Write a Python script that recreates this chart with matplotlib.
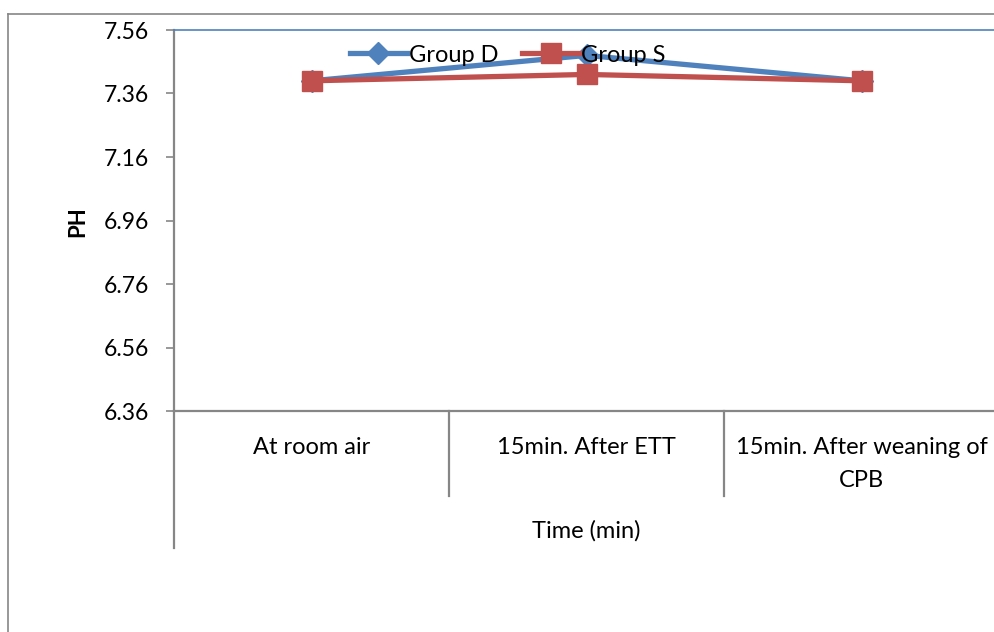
import matplotlib.pyplot as plt
from matplotlib.lines import Line2D
from matplotlib.transforms import blended_transform_factory

plt.rcParams['font.family'] = ['Lato', 'DejaVu Sans']

# pH readings per time point
categories = ["At room air", "15min. After ETT", "15min. After weaning of\nCPB"]
group_d = [7.40, 7.48, 7.40]
group_s = [7.40, 7.42, 7.40]
y_ticks = [6.36, 6.56, 6.76, 6.96, 7.16, 7.36, 7.56]

blue = '#4F81BD'
red = '#C0504D'
grey = '#868686'

fig = plt.figure(figsize=(9.95, 6.32), dpi=100)
W, H = 995, 632

# outer chart frame
fig.add_artist(Line2D([8 / W, 8 / W], [0, 1 - 14 / H], color=grey, lw=1.2))
fig.add_artist(Line2D([8 / W, 1.0], [1 - 14 / H, 1 - 14 / H], color=grey, lw=1.2))

ax = fig.add_axes([174 / W, (H - 411) / H, 825 / W, 381 / H])
x = list(range(len(categories)))

ax.plot(x, group_d, color=blue, lw=3.8, marker='D', markersize=11, label='Group D', zorder=3)
ax.plot(x, group_s, color=red, lw=3.8, marker='s', markersize=14, label='Group S', zorder=4)

ax.set_xlim(-0.5, len(categories) - 0.5)
ax.set_ylim(y_ticks[0], y_ticks[-1])
ax.set_yticks(y_ticks)
ax.set_yticklabels([f"{t:.2f}" for t in y_ticks])
ax.tick_params(axis='y', length=6, width=1.2, color=grey, pad=12, labelsize=16.5)
ax.set_xticks([])

for side in ['left', 'bottom']:
    ax.spines[side].set_color(grey)
    ax.spines[side].set_linewidth(1.6)
ax.spines['top'].set_color(blue)
ax.spines['top'].set_linewidth(1.2)
ax.spines['right'].set_visible(False)

# category labels and separators below the axis
trans = blended_transform_factory(ax.transData, ax.transAxes)
for i, name in enumerate(categories):
    ax.text(i, -0.068, name, transform=trans, ha='center', va='top',
            fontsize=17, linespacing=1.7)
for i in range(len(categories) + 1):
    bottom = -0.36 if i == 0 else -0.223
    ax.plot([i - 0.5, i - 0.5], [0, bottom], transform=trans, color=grey,
            lw=1.6, clip_on=False)
ax.text(1, -0.315, "Time (min)", transform=trans, ha='center', va='center', fontsize=17)

fig.text(78 / W, 1 - 222 / H, "PH", rotation=90, ha='center', va='center',
         fontsize=16, fontweight='bold')

ax.legend(loc='center', bbox_to_anchor=(508 / W, 1 - 55 / H), bbox_transform=fig.transFigure,
          ncol=2, frameon=False, fontsize=17, handlelength=2.4, columnspacing=1.0,
          handletextpad=0.1)

fig.savefig('out.png', dpi=100)
